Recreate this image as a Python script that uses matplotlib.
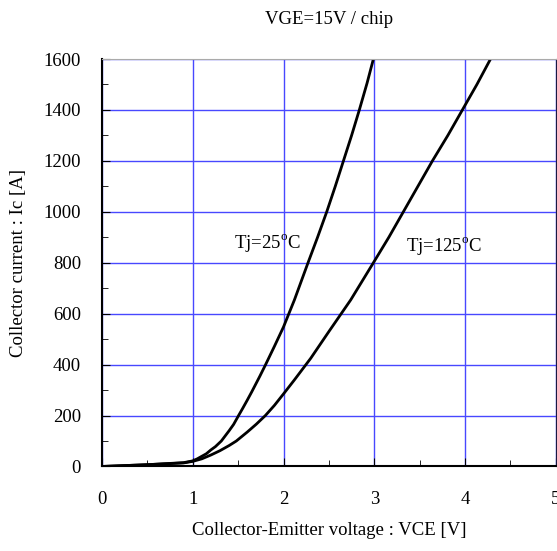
import matplotlib.pyplot as plt

plt.rcParams['font.family'] = 'Liberation Serif'
plt.rcParams['mathtext.fontset'] = 'custom'
plt.rcParams['mathtext.rm'] = 'Liberation Serif'

# Tj = 25 C curve (VCE [V], Ic [A])
vce_25 = [0, 0.5, 0.9, 1.0, 1.05, 1.1, 1.15, 1.2, 1.25, 1.315, 1.4, 1.45, 1.505, 1.55, 1.6, 1.65,
          1.74, 1.8, 1.9, 2.0, 2.12, 2.27, 2.375, 2.476, 2.57, 2.66, 2.75, 2.835, 2.92, 2.99]
ic_25 = [0, 7, 15, 22, 30, 40, 50, 65, 78, 100, 140, 165, 200, 228, 260, 293,
         355, 398, 472, 548, 654, 800, 900, 1000, 1100, 1200, 1300, 1400, 1505, 1600]

# Tj = 125 C curve
vce_125 = [0, 0.5, 0.9, 1.0, 1.1, 1.2, 1.3, 1.4, 1.48, 1.6, 1.7, 1.8, 1.9, 2.0, 2.12, 2.3,
           2.5, 2.74, 2.99, 3.16, 3.32, 3.48, 3.64, 3.81, 3.97, 4.13, 4.28]
ic_125 = [0, 7, 14, 20, 30, 45, 62, 82, 100, 135, 166, 200, 240, 285, 340, 425,
          530, 654, 800, 900, 1000, 1100, 1200, 1300, 1400, 1500, 1600]

fig = plt.figure(figsize=(5.57, 5.51), dpi=100)
ax = fig.add_axes([0.183, 0.1534, 0.815, 0.7395])

ax.plot(vce_25, ic_25, color='black', lw=2)
ax.plot(vce_125, ic_125, color='black', lw=2)

ax.set_xlim(0, 5)
ax.set_ylim(0, 1600)
ax.set_xticks(range(0, 6))
ax.set_yticks(range(0, 1601, 200))
ax.set_xticks([0.5, 1.5, 2.5, 3.5, 4.5], minor=True)
ax.set_yticks(range(100, 1600, 200), minor=True)
ax.grid(True, which='major', color='#4848ff', lw=1)
ax.tick_params(which='both', direction='in', labelsize=13.5)
ax.tick_params(axis='x', which='major', pad=18, length=6)
ax.tick_params(axis='y', which='major', pad=15, length=6)
ax.tick_params(which='minor', length=4)
for s in ['left', 'bottom']:
    ax.spines[s].set_linewidth(1.5)
ax.spines['top'].set_color('#aaaaaa')
ax.spines['right'].set_color('#1a1a40')

ax.text(1.45, 878, r'Tj=25$^\mathrm{o}$C', fontsize=13.5, va='center')
ax.text(3.35, 867, r'Tj=125$^\mathrm{o}$C', fontsize=13.5, va='center')

ax.set_xlabel('Collector-Emitter voltage : VCE [V]', fontsize=13.5, labelpad=10)
ax.set_ylabel('Collector current : Ic [A]', fontsize=13.5, labelpad=12)
ax.set_title('VGE=15V / chip', fontsize=13.5, pad=25)

fig.savefig('out.png', dpi=100)
